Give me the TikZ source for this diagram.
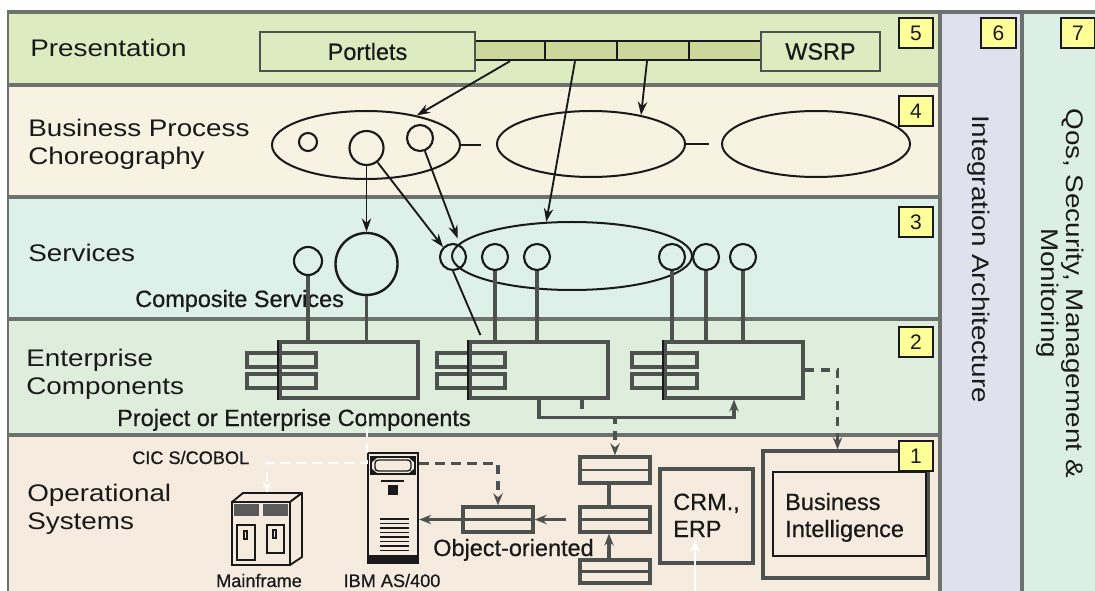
\documentclass[tikz,border=0pt]{standalone}
\usepackage{fontspec}
\setmainfont{Liberation Sans}
\newfontfamily\semib{Liberation Sans}[FakeBold=0.7]
\usepackage{graphicx}
\usetikzlibrary{shapes.geometric,arrows.meta,fit,calc}

\definecolor{rowP}{HTML}{DCECC0}
\definecolor{rowB}{HTML}{F7F2E1}
\definecolor{rowS}{HTML}{DDF0EA}
\definecolor{rowE}{HTML}{DFEEDC}
\definecolor{rowO}{HTML}{F6EBDF}
\definecolor{colI}{HTML}{E1E1EE}
\definecolor{colQ}{HTML}{DCEFE6}
\definecolor{bordr}{HTML}{6E726E}
\definecolor{barf}{HTML}{CCD79B}
\definecolor{numf}{HTML}{FFFF99}
\definecolor{ink}{HTML}{1A1A1A}
\definecolor{gline}{HTML}{4E524E}
\definecolor{mfdark}{HTML}{5A5A5A}

\newcommand\hs[1]{\scalebox{1.16}[1]{#1}}
\newcommand\fbig{\fontsize{18}{21}\selectfont}
\newcommand\fsmall{\semib\fontsize{17.6}{20.25}\selectfont}
\newcommand\ftiny{\semib\fontsize{13.6}{16}\selectfont}
\newcommand\fnum{\fontsize{15.75}{18}\selectfont}
\newcommand\twol[2]{\begin{tabular}[t]{@{}l@{}}#1\\#2\end{tabular}}

\begin{document}
\begin{tikzpicture}[x=0.75pt,y=-0.75pt,
  rowlbl/.style={anchor=base west, inner sep=0pt, font=\fbig, text=ink},
  smlbl/.style={anchor=base west, inner sep=0pt, font=\fsmall, text=ink},
  tinylbl/.style={anchor=base, inner sep=0pt, font=\ftiny, text=ink},
  numbox/.style={draw=ink, fill=numf, line width=1.7pt, minimum width=26pt, minimum height=23pt, inner sep=0pt, font=\fnum, text=ink},
  pbox/.style={draw=gline, line width=2.1pt, fill=rowP, inner sep=0pt, font=\fsmall, text=ink},
  seg/.style={draw=ink, line width=1.8pt, fill=barf, inner sep=0pt},
  oval/.style={ellipse, draw=ink, line width=1.5pt, inner sep=0pt},
  ring/.style={circle, draw=ink, line width=1.6pt, inner sep=0pt},
  comp/.style={draw=gline, line width=2.4pt, inner sep=0pt},
  cbar/.style={draw=gline, line width=2.4pt, inner sep=0pt},
  sbox/.style={draw=gline, line width=2.4pt, inner sep=0pt},
  arr/.style={draw=ink, line width=1.4pt, -{Stealth[length=10pt,width=7pt]}},
  conn/.style={draw=gline, line width=2.6pt},
  carr/.style={draw=gline, line width=2.4pt, -{Stealth[length=9pt,width=7pt]}},
  dconn/.style={draw=gline, line width=2.4pt, dash pattern=on 7pt off 5pt, -{Stealth[length=9pt,width=7pt]}},
  wline/.style={draw=white, line width=1.8pt, dash pattern=on 7pt off 5pt, -{Stealth[length=8pt,width=6pt]}},
]
\useasboundingbox (0,0) rectangle (1095,591);
\fill[white] (0,0) rectangle (1095,591);

% ---- layer backgrounds
\fill[rowP] (8,12) rectangle (940,85);
\fill[rowB] (8,85) rectangle (940,197);
\fill[rowS] (8,197) rectangle (940,319);
\fill[rowE] (8,319) rectangle (940,435);
\fill[rowO] (8,435) rectangle (940,591);
\fill[colI] (940,12) rectangle (1022,591);
\fill[colQ] (1022,12) rectangle (1095,591);

% ---- borders
\draw[bordr, line width=2.6pt] (8,85) -- (940,85);
\draw[bordr, line width=2.6pt] (8,197) -- (940,197);
\draw[bordr, line width=2.6pt] (8,319) -- (940,319);
\draw[bordr, line width=2.6pt] (8,435) -- (940,435);
\draw[bordr, line width=2pt] (8,12) -- (8,591);
\draw[bordr, line width=2.4pt] (940,12) -- (940,591);
\draw[bordr, line width=2.4pt] (1022,12) -- (1022,591);
\draw[bordr, line width=2.6pt] (6.7,12) -- (1095,12);

% ---- layer labels
\node[rowlbl] (lP) at (30,57) {\hs{Presentation}};
\node[rowlbl] (lB) at (28,137) {\twol{\hs{Business Process}}{\hs{Choreography}}};
\node[rowlbl] (lS) at (28,262) {\hs{Services}};
\node[rowlbl] (lE) at (26,366) {\twol{\hs{Enterprise}}{\hs{Components}}};
\node[rowlbl] (lO) at (27,501) {\twol{\hs{Operational}}{\hs{Systems}}};
\node[rotate=-90, inner sep=0pt, font=\fbig, text=ink] (lI) at (979,259) {\hs{Integration Architecture}};
\node[rotate=-90, inner sep=0pt, font=\fontsize{18}{18.75}\selectfont, text=ink] (lQ) at (1059,293)
  {\begin{tabular}{@{}c@{}}\hs{Qos, Security, Management \&}\\\hs{Monitoring}\end{tabular}};

% ---- presentation layer
\node[seg, fit={(475,41) (545,60)}] (seg1) {};
\node[seg, fit={(545,41) (617,60)}] (seg2) {};
\node[seg, fit={(617,41) (689,60)}] (seg3) {};
\node[seg, fit={(689,41) (761,60)}] (seg4) {};
\node[pbox, minimum width=161.25pt, minimum height=29.25pt] (portlets) at (367.5,51.5) {Portlets};
\node[pbox, minimum width=89.25pt, minimum height=29.25pt] (wsrp) at (820.5,51.5) {WSRP};

% ---- business process choreography
\node[oval, minimum width=141pt, minimum height=51pt] (bp1) at (366,145) {};
\node[oval, minimum width=141pt, minimum height=49.5pt] (bp2) at (591,144) {};
\node[oval, minimum width=141pt, minimum height=49.5pt] (bp3) at (816,144) {};
\draw[ink, line width=1.5pt] (bp1.east) -- ++(20,0);
\draw[ink, line width=1.5pt] (bp2.east) -- ++(23,0);
\node[ring, minimum size=13.5pt] (c1) at (308,142) {};
\node[ring, minimum size=25.5pt] (c2) at (366.5,148) {};
\node[ring, minimum size=19.5pt] (c3) at (420,138) {};

% ---- services
\node[ring, minimum size=21pt] (s0) at (308,261) {};
\node[ring, line width=1.8pt, minimum size=46.5pt] (big) at (366.5,264) {};
\node[oval, minimum width=180pt, minimum height=51pt] (se) at (572,256) {};
\node[ring, minimum size=19.5pt] (s1) at (453,257) {};
\node[ring, minimum size=19.5pt] (s2) at (495,257) {};
\node[ring, minimum size=19.5pt] (s3) at (537,257) {};
\node[ring, minimum size=19.5pt] (s4) at (672,257) {};
\node[ring, minimum size=19.5pt] (s5) at (706,257) {};
\node[ring, minimum size=19.5pt] (s6) at (743,257) {};
\node[smlbl] (lcs) at (135,307) {Composite Services};

% ---- enterprise components
\node[cbar, fit={(247,353) (316,367)}] (b1a) {};
\node[cbar, fit={(247,374) (316,388)}] (b1b) {};
\node[comp, fit={(280,342) (418,398)}] (comp1) {};
\node[cbar, fit={(437,353) (505,367)}] (b2a) {};
\node[cbar, fit={(437,374) (505,388)}] (b2b) {};
\node[comp, fit={(470,342) (608,398)}] (comp2) {};
\node[cbar, fit={(632,353) (697,367)}] (b3a) {};
\node[cbar, fit={(632,374) (697,388)}] (b3b) {};
\node[comp, fit={(665,342) (803,398)}] (comp3) {};
\draw[ink, line width=1.4pt] (comp1.north west) -- (comp1.south west);
\draw[ink, line width=1.4pt] (comp2.north west) -- (comp2.south west);
\draw[ink, line width=1.4pt] (comp3.north west) -- (comp3.south west);
\node[smlbl] (lpe) at (117,426) {Project or Enterprise Components};

% ---- operational systems
\node[tinylbl, anchor=base west] (lcic) at (132,464) {CIC S/COBOL};
% mainframe
\node[inner sep=0pt, fit={(232,493) (302,565)}] (mf) {};
\draw[ink, line width=1.4pt, fill=rowO] (232,502) rectangle (290,565);
\draw[ink, line width=1.4pt, fill=rowO, line join=round] (232,502) -- (243,493) -- (302,493) -- (290,502) -- cycle;
\draw[ink, line width=1.4pt, fill=rowO, line join=round] (290,502) -- (302,493) -- (302,557) -- (290,565) -- cycle;
\fill[mfdark] (234,504) rectangle (259,516);
\fill[mfdark] (263,504) rectangle (288,516);
\draw[ink, line width=1.1pt] (237,525) rectangle (255,560);
\draw[ink, line width=1.1pt] (267,525) rectangle (284,553);
\draw[ink, line width=0.8pt] (244,531) rectangle (247,539);
\draw[ink, line width=0.8pt] (273,530) rectangle (276,538);
\node[tinylbl] (lmf) at (259,587) {Mainframe};
% AS/400
\node[draw=ink, line width=1.8pt, fill=rowO, inner sep=0pt, fit={(368,453) (418,563)}] (as4) {};
\draw[ink, line width=1.2pt] (371,457) rectangle (415,474);
\draw[ink, line width=1pt, rounded corners=2.5pt] (375,460) rectangle (411,471);
\fill[ink] (371,457) -- (378,457) -- (371,463) -- cycle;
\fill[ink] (415,457) -- (408,457) -- (415,463) -- cycle;
\fill[ink] (371,474) -- (378,474) -- (371,468) -- cycle;
\fill[ink] (415,474) -- (408,474) -- (415,468) -- cycle;
\draw[ink, line width=1.5pt] (381,481) -- (404,481);
\fill[ink] (388,485) rectangle (398,495);
\foreach \yy in {519,523.5,...,551} \draw[ink, line width=1.4pt] (380,\yy) -- (409,\yy);
\fill[ink] (368,555) rectangle (418,563);
\node[tinylbl] (las) at (392,587) {IBM AS/400};
% object-oriented
\node[sbox, fit={(463,507) (533,532)}] (oo) {};
\draw[gline, line width=1.8pt] (oo.west) -- (oo.east);
\node[smlbl] (loo) at (433,556) {Object-oriented};
% stack
\node[sbox, fit={(580,457) (650,483)}] (stk1) {};
\node[sbox, fit={(580,507) (650,532)}] (stk2) {};
\node[sbox, fit={(580,560) (650,583)}] (stk3) {};
\draw[gline, line width=1.8pt] (stk1.west) -- (stk1.east);
\draw[gline, line width=1.8pt] (stk2.west) -- (stk2.east);
\draw[gline, line width=1.8pt] (stk3.west) -- (stk3.east);
% CRM
\node[sbox, fit={(660,469) (753,563)}] (crm) {};
\node[smlbl] (lcrm) at (673,510) {\twol{CRM.,}{ERP}};
% BI
\node[sbox, fit={(763,451) (928,578)}] (bi) {};
\node[draw=ink, line width=1.8pt, inner sep=0pt, fit={(773,472) (926,556)}] (bin) {};
\node[smlbl] (lbi) at (785,510) {\twol{Business}{Intelligence}};

% ---- connectors
\draw[arr] (seg1.south) -- (bp1);
\draw[arr] ([xshift=-4.5pt]seg2.south) -- (se.127);
\draw[arr] ([xshift=-4.5pt]seg3.south) -- (bp2.30);
\draw[arr] (c2) -- (big);
\draw[arr] (c2) -- (s1.north west);
\draw[arr, shorten >=5pt] (c3) -- (s1.60);

\draw[conn] (s0.south) -- (s0.south |- comp1.north);
\draw[conn] (big.south) -- (big.south |- comp1.north);
\draw[conn] (s2.south) -- (s2.south |- comp2.north);
\draw[conn] (s3.south) -- (s3.south |- comp2.north);
\draw[conn] (s4.south) -- (s4.south |- comp3.north);
\draw[conn] (s5.south) -- (s5.south |- comp3.north);
\draw[conn] (s6.south) -- (s6.south |- comp3.north);
\draw[ink, line width=1.4pt] (s1.south) -- ([xshift=9pt,yshift=4pt]comp2.north west);

\draw[carr] (comp2.south) -- ++(0,18) -| (comp3.south);
\draw[dconn] ($(comp2.south)+(43,0)$) -- ++(0,18) -| (stk1.north);
\draw[dconn] (comp3.east) -| ([xshift=-6pt]bi.north);

\coordinate (wtop) at (367,412);
\draw[wline] (wtop) |- ($(mf.north)+(0,-30)$) -- (mf.north);
\draw[dconn] ([yshift=-9pt]as4.north east) -| (oo.north);
\draw[carr] (oo.west) -- (oo.west -| as4.east);
\draw[carr] ($(stk2.west)+(-12,0)$) -- (stk2.west -| oo.east);
\draw[conn] ([xshift=-4.5pt]stk1.south) -- ([xshift=-4.5pt]stk2.north);
\draw[carr] ([xshift=-4.5pt]stk3.north) -- ([xshift=-4.5pt]stk2.south);
\coordinate (wbot) at (695,591);
\coordinate (wtip) at (695,540);
\draw[draw=white, line width=1.8pt, -{Stealth[length=9pt,width=7pt]}] (wbot) -- (wtip);

% ---- number boxes
\node[numbox] (n5) at (916,33) {5};
\node[numbox] (n4) at (916,111) {4};
\node[numbox] (n3) at (916,222) {3};
\node[numbox] (n2) at (916,342) {2};
\node[numbox] (n1) at (916,456) {1};
\node[numbox] (n6) at (998.5,33) {6};
\node[numbox] (n7) at (1078,33) {7};
\end{tikzpicture}
\end{document}
